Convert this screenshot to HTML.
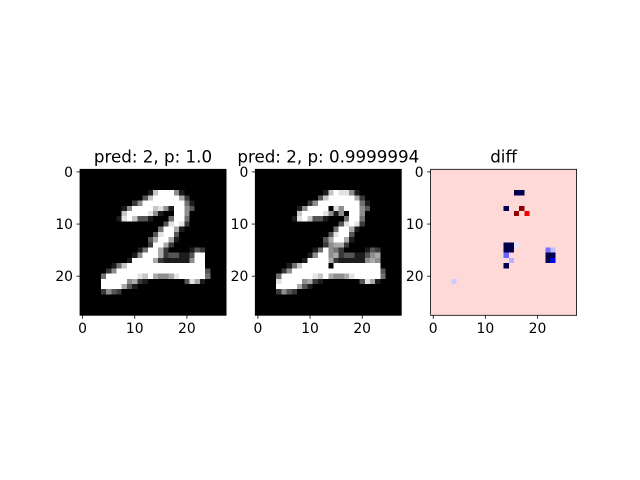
<!DOCTYPE html>
<html><head><meta charset="utf-8"><style>
html,body{margin:0;padding:0;background:#fff;}
svg{display:block;}
text{font-family:"DejaVu Sans","Liberation Sans",sans-serif;fill:#000;}
</style></head><body>
<svg id="fig" width="640" height="480" viewBox="0 0 640 480" xmlns="http://www.w3.org/2000/svg">
<rect width="640" height="480" fill="#fff"/>
</svg>
<script>
// ---- data ----
const titles = ["pred: 2, p: 1.0", "pred: 2, p: 0.9999994", "diff"];
const tickValues = [0, 10, 20];
const tickLabels = ["0", "10", "20"];
// original image, intensity 0-9 per pixel [row, colStart, values...]
const origRuns = [
 [4,13,1,7,9,9,9,5,1],
 [5,12,3,7,9,9,9,9,9,6,2],
 [6,10,2,5,9,9,9,9,9,9,9,9,4,1],
 [7,8,1,5,9,9,9,9,7,8,5,1,9,9,5,3],
 [8,8,7,9,9,9,9,8,5,1,0,0,9,9,5],
 [9,7,1,8,9,7,3,3,1,0,0,0,4,9,9,4],
 [10,16,3,8,9,8,2],
 [11,15,4,9,9,6,1],
 [12,14,3,8,9,9,3],
 [13,13,3,6,9,9,6,1],
 [14,13,2,9,9,6,2],
 [15,11,1,4,9,9,6,2,0,0,0,0,1,3,2],
 [16,10,1,5,9,9,9,6,2,3,3,1,1,3,9,9],
 [17,9,1,9,9,9,9,6,2,1,1,1,1,1,5,9,9],
 [18,6,1,4,7,9,9,9,9,9,9,9,9,9,9,9,9,9,9,9],
 [19,5,2,5,9,9,9,9,9,9,9,9,9,9,9,9,9,9,9,9,9,3],
 [20,4,4,9,9,9,9,9,9,8,7,9,6,5,5,6,8,9,9,9,9,9,4],
 [21,4,9,9,9,9,9,5,6,2,1,0,0,0,0,0,0,0,3,8,6,1],
 [22,4,9,9,9,9,6,3,1],
 [23,4,2,5,3,2]
];
// adversarial image edits [row, col, value 0-9]
const advEdits = [
 [4,16,8],[4,17,8],[7,14,0],[7,17,9],[8,16,5],[8,18,9],
 [14,14,5],[14,15,6],[15,14,5],[15,15,4],[16,14,5],[18,14,0],
 [16,22,5],[17,22,6],[16,23,6],[17,23,5],[21,4,8]
];
// diff values in normalized colormap units [-1,1]
const diffBackground = 0.076;
const diffCells = [
 [4,16,-1],[4,17,-1],[7,14,-1],[7,17,0.95],[8,16,0.95],[8,18,0.55],
 [14,14,-1],[14,15,-1],[15,14,-1],[15,15,-1],[14,16,-0.05],
 [16,14,-0.3],[17,15,-0.15],[18,14,-1],
 [15,22,-0.27],[15,23,-0.13],[16,22,-1],[16,23,-1],[17,22,-1],[17,23,-0.5],
 [21,4,-0.1]
];
// ---- build ----
const N = 28;
const NS = "http://www.w3.org/2000/svg";
const svg = document.getElementById('fig');
const panels = [{x:80,y:169.3},{x:255.3,y:169.3},{x:430.6,y:169.3}];
const W = 146, H = 146;
function mk(tag, attrs, parent){const e=document.createElementNS(NS,tag);for(const k in attrs)e.setAttribute(k,attrs[k]);(parent||svg).appendChild(e);return e;}
function blank(){const g=[];for(let r=0;r<N;r++){g.push(new Array(N).fill(0));}return g;}
const orig = blank();
origRuns.forEach(run=>{const r=run[0],c0=run[1];for(let i=2;i<run.length;i++)orig[r][c0+i-2]=run[i];});
const adv = orig.map(row=>row.slice());
advEdits.forEach(e=>{adv[e[0]][e[1]]=e[2];});
const diff = blank().map(row=>row.map(()=>diffBackground));
diffCells.forEach(e=>{diff[e[0]][e[1]]=e[2];});
function gray(v){const g=Math.round(v/9*255);return `rgb(${g},${g},${g})`;}
function seismic(v){let r,g,b;
 if(v<-0.5){const t=(v+1)/0.5;r=0;g=0;b=0.3+0.7*t;}
 else if(v<0){const t=(v+0.5)/0.5;r=t;g=t;b=1;}
 else if(v<0.5){const t=v/0.5;r=1;g=1-t;b=1-t;}
 else{const t=(v-0.5)/0.5;r=1-0.5*t;g=0;b=0;}
 return `rgb(${Math.round(r*255)},${Math.round(g*255)},${Math.round(b*255)})`;}
const xs=(p,v)=>p.x+(v+0.5)*W/N;
const ys=(p,v)=>p.y+(v+0.5)*H/N;
const images=[orig,adv,diff];
const colorFns=[gray,gray,seismic];
panels.forEach((p,i)=>{
 const g=mk('g',{});
 
 
 const img=mk('g',{'shape-rendering':'crispEdges'},g);
 
 
 const cw=W/N,ch=H/N;
 for(let r=0;r<N;r++)for(let c=0;c<N;c++){
  const cell=mk('rect',{x:p.x+c*cw,y:p.y+r*ch,width:cw+0.4,height:ch+0.4,fill:colorFns[i](images[i][r][c])},img);
  
  
 }
 const frame=mk('rect',{x:p.x,y:p.y,width:W,height:H,fill:'none',stroke:'#000','stroke-width':0.8},g);
 
 
 tickValues.forEach((v,k)=>{
  const x=xs(p,v);
  const t=mk('line',{x1:x,x2:x,y1:p.y+H,y2:p.y+H+3.5,stroke:'#000','stroke-width':0.8},g);
  
  
  const l=mk('text',{x:x,y:p.y+H+17.5,'text-anchor':'middle','font-size':'13.9px'},g);
  l.textContent=tickLabels[k];
  
  
  const y=ys(p,v);
  const t2=mk('line',{x1:p.x-3.5,x2:p.x,y1:y,y2:y,stroke:'#000','stroke-width':0.8},g);
  
  
  const l2=mk('text',{x:p.x-7,y:y+5,'text-anchor':'end','font-size':'13.9px'},g);
  l2.textContent=tickLabels[k];
  
  
 });
 const tt=mk('text',{x:p.x+W/2,y:p.y-7,'text-anchor':'middle','font-size':'16.7px'},g);
 tt.textContent=titles[i];
 
 
});
</script>
</body></html>
